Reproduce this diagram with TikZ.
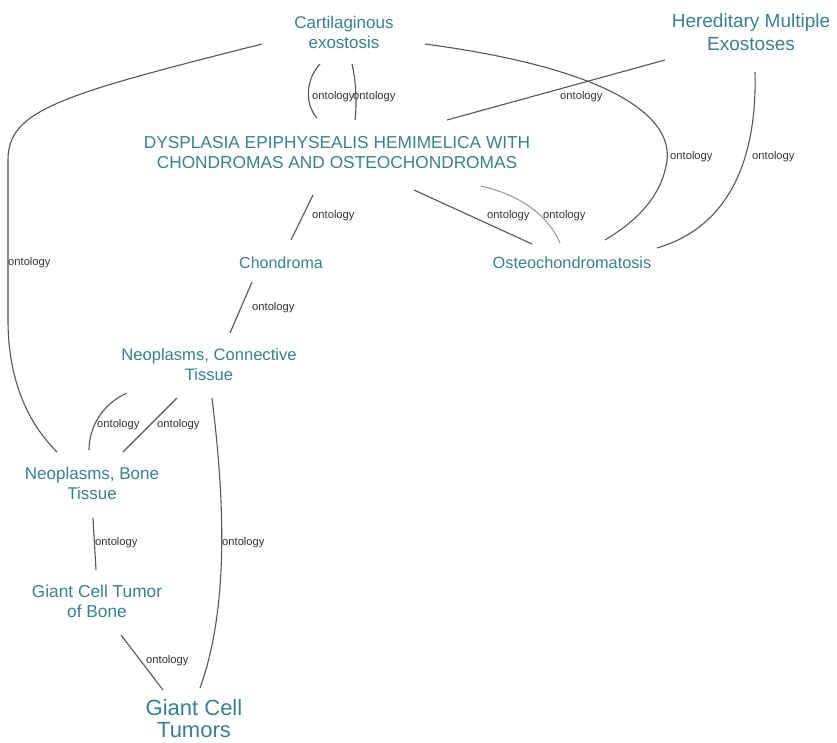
\documentclass[tikz,border=0pt]{standalone}
\usepackage{fontspec}
\setmainfont{Liberation Sans}
\usetikzlibrary{calc}
\definecolor{nodeteal}{HTML}{3A7F8B}
\definecolor{edgegray}{HTML}{555555}
\definecolor{edgelight}{HTML}{9A9A9A}
\definecolor{labelgray}{HTML}{333333}
\tikzset{
  concept/.style={text=nodeteal, align=center, inner sep=0pt, font=\fontsize{16}{20}\selectfont},
  bigconcept/.style={concept, font=\fontsize{19}{22.5}\selectfont},
  rel/.style={draw=edgegray, line width=1.1pt},
  rellight/.style={draw=edgelight, line width=1.1pt},
  onto/.style={text=labelgray, anchor=west, inner sep=0pt, font=\fontsize{11.2}{12}\selectfont}
}
\begin{document}
\begin{tikzpicture}[x=1pt,y=-1pt]
\useasboundingbox (0,0) rectangle (837,742);
\fill[white] (0,0) rectangle (837,742);
% nodes
\node[concept, font=\fontsize{17}{20}\selectfont] (cart) at (344,32) {Cartilaginous\\exostosis};
\node[bigconcept] (hme) at (751,32) {Hereditary Multiple\\Exostoses};
\node[concept, font=\fontsize{17.3}{20}\selectfont] (dys) at (337,153) {DYSPLASIA EPIPHYSEALIS HEMIMELICA WITH\\CHONDROMAS AND OSTEOCHONDROMAS};
\node[concept] (chon) at (281,263) {Chondroma};
\node[concept, font=\fontsize{16.3}{20}\selectfont] (osteo) at (572,263) {Osteochondromatosis};
\node[concept, font=\fontsize{16.6}{20}\selectfont] (nct) at (209,365) {Neoplasms, Connective\\Tissue};
\node[concept, font=\fontsize{17}{20}\selectfont] (nbt) at (92,483) {Neoplasms, Bone\\Tissue};
\node[concept, font=\fontsize{17.3}{20}\selectfont] (gctb) at (97,601) {Giant Cell Tumor\\of Bone};
\node[bigconcept, font=\fontsize{22}{22}\selectfont] (gct) at (194,719) {Giant Cell\\Tumors};
% edges
\draw[rel] ($(cart)+(-82,12)$) .. controls (60,95) and (8,110) .. (8,160) -- (8,320) .. controls (8,390) and (35,430) .. ($(nbt)+(-35,-31)$);
\draw[rel] ($(cart)+(-24,32)$) .. controls (305,80) and (305,105) .. ($(dys)+(-20,-35)$);
\draw[rel] ($(cart)+(8,32)$) .. controls (356,80) and (357,105) .. ($(dys)+(18,-33)$);
\draw[rel] ($(cart)+(81,12)$) .. controls (620,70) and (672,120) .. (667,160) .. controls (662,200) and (630,225) .. ($(osteo)+(33,-23)$);
\draw[rel] ($(hme)+(-86,28)$) -- ($(dys)+(110,-33)$);
\draw[rel] ($(hme)+(4,40)$) .. controls (757,150) and (735,225) .. ($(osteo)+(85,-15)$);
\draw[rel] ($(dys)+(-24,42)$) -- ($(chon)+(10,-23)$);
\draw[rel] ($(dys)+(77,37)$) -- ($(osteo)+(-40,-19)$);
\draw[rellight] ($(dys)+(144,33)$) .. controls (520,195) and (548,215) .. ($(osteo)+(-12,-20)$);
\draw[rel] ($(chon)+(-29,19)$) -- ($(nct)+(21,-32)$);
\draw[rel] ($(nct)+(-82,28)$) .. controls (100,405) and (89,430) .. ($(nbt)+(-3,-33)$);
\draw[rel] ($(nct)+(-32,33)$) -- ($(nbt)+(31,-31)$);
\draw[rel] ($(nct)+(3,33)$) .. controls (222,480) and (232,600) .. ($(gct)+(6,-31)$);
\draw[rel] ($(nbt)+(1,35)$) -- ($(gctb)+(-1,-31)$);
\draw[rel] ($(gctb)+(24,34)$) -- ($(gct)+(-31,-29)$);
% labels
\node[onto] (l1) at (8,263) {ontology};
\node[onto] (l2) at (312,97) {ontology};
\node[onto] (l3) at (353,97) {ontology};
\node[onto] (l4) at (670,157) {ontology};
\node[onto] (l5) at (560,97) {ontology};
\node[onto] (l6) at (752,157) {ontology};
\node[onto] (l7) at (312,216) {ontology};
\node[onto] (l8) at (487,216) {ontology};
\node[onto] (l9) at (543,216) {ontology};
\node[onto] (l10) at (252,308) {ontology};
\node[onto] (l11) at (97,425) {ontology};
\node[onto] (l12) at (157,425) {ontology};
\node[onto] (l13) at (222,543) {ontology};
\node[onto] (l14) at (95,543) {ontology};
\node[onto] (l15) at (146,661) {ontology};
\end{tikzpicture}
\end{document}
